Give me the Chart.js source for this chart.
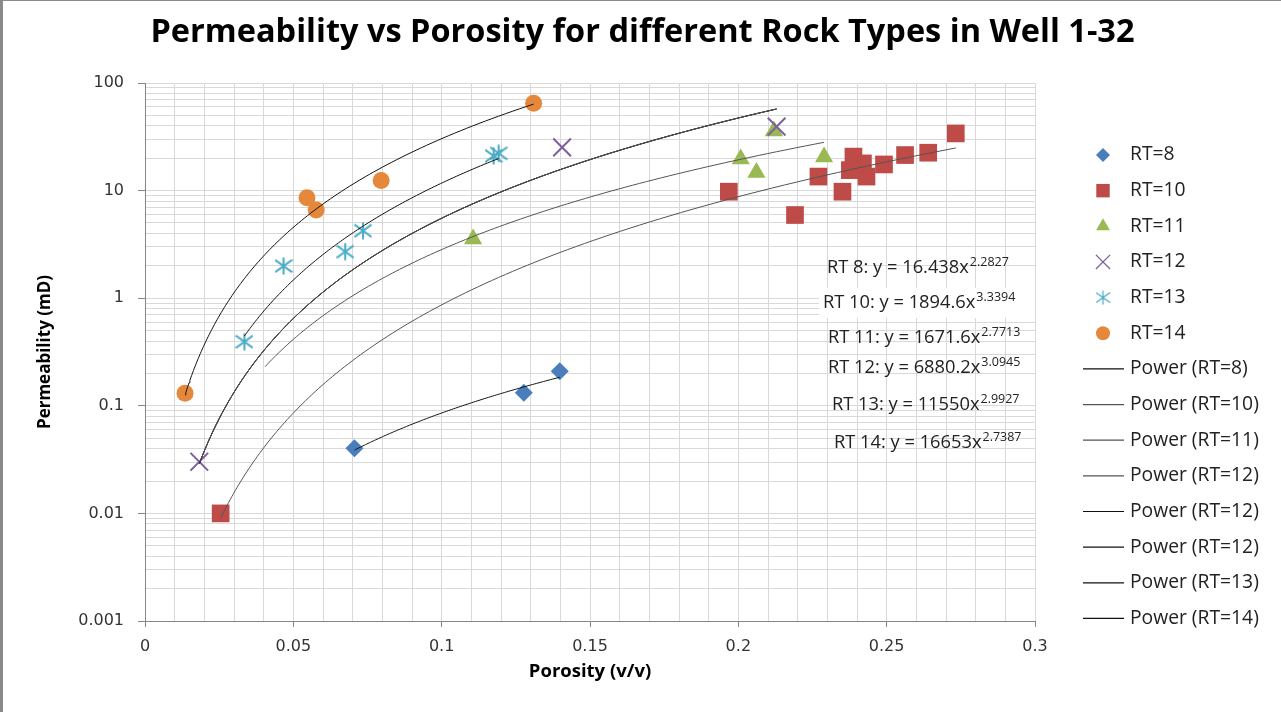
<!DOCTYPE html>
<html>
<head>
<meta charset="utf-8">
<title>Permeability vs Porosity - Well 1-32</title>
<script src="https://cdn.jsdelivr.net/npm/chart.js@4.4.1/dist/chart.umd.min.js"></script>
<style>
  html, body { margin: 0; padding: 0; background: #fff; }
  canvas { display: block; }
</style>
</head>
<body>
<canvas id="myChart" width="1281" height="712"></canvas>
<script>
// core plug data, porosity (v/v) vs permeability (mD), by rock type
const rt8Porosity = [0.0706, 0.1277, 0.1398];
const rt8Perm = [0.0403, 0.132, 0.210];

const rt10Porosity = [0.0255, 0.1968, 0.2191, 0.2270, 0.2351, 0.2388, 0.2420, 0.2376, 0.2432, 0.2491, 0.2562, 0.2640, 0.2733];
const rt10Perm = [0.01, 9.77, 5.93, 13.5, 9.77, 20.7, 17.9, 15.5, 13.5, 17.5, 21.4, 22.5, 34.0];

const rt11Porosity = [0.1106, 0.2008, 0.2061, 0.2120, 0.2289];
const rt11Perm = [3.55, 19.7, 14.7, 35.8, 20.5];

const rt12Porosity = [0.0183, 0.1406, 0.2129];
const rt12Perm = [0.0302, 25.2, 39.3];

const rt13Porosity = [0.0335, 0.0467, 0.0675, 0.0735, 0.1175, 0.1192];
const rt13Perm = [0.394, 1.99, 2.71, 4.24, 21.0, 22.2];

const rt14Porosity = [0.0135, 0.0546, 0.0577, 0.0796, 0.1310];
const rt14Perm = [0.131, 8.59, 6.61, 12.4, 64.7];

const rockTypes = ['RT=8', 'RT=10', 'RT=11', 'RT=12', 'RT=13', 'RT=14'];

// power trendlines k = a * phi^b, and the porosity range each one covers
const fitNames = ['Power (RT=8)', 'Power (RT=10)', 'Power (RT=11)', 'Power (RT=12)', 'Power (RT=12)', 'Power (RT=12)', 'Power (RT=13)', 'Power (RT=14)'];
const fitCoef = [16.438, 1894.6, 1671.6, 6880.2, 6880.2, 6880.2, 11550, 16653];
const fitExp = [2.2827, 3.3394, 2.7713, 3.0945, 3.0945, 3.0945, 2.9927, 2.7387];
const fitFrom = [0.0706, 0.0255, 0.0405, 0.0183, 0.0183, 0.0183, 0.0335, 0.0135];
const fitTo = [0.1398, 0.2733, 0.2289, 0.2129, 0.2129, 0.2129, 0.1192, 0.1310];

// which trendlines get an equation label
const eqNames = ['RT 8', 'RT 10', 'RT 11', 'RT 12', 'RT 13', 'RT 14'];
const eqFit = [0, 1, 2, 3, 6, 7];

const xTickLabels = ['0', '0.05', '0.1', '0.15', '0.2', '0.25', '0.3'];
const yTickLabels = [0.001, 0.01, 0.1, 1, 10, 100];

const chartTitle = 'Permeability vs Porosity for different Rock Types in Well 1-32';

// ---- styles ----
const seriesColors = ['#4A7EBB', '#BE4B48', '#98B954', '#7D5FA0', '#4BACC6', '#E6883C'];
const fitColors = ['#111', '#555', '#555', '#555', '#111', '#111', '#111', '#111'];
const eqOffsets = [[682, 185], [678, 220], [683, 255], [683, 285], [687, 322], [689, 360]];

const textFont = "'Open Sans', sans-serif";
const tickFont = "'DejaVu Sans', sans-serif";

// asterisk marker: vertical bar plus an x
function asterisk(size, color, lw) {
  const c = document.createElement('canvas');
  c.width = size;
  c.height = size;
  const g = c.getContext('2d');
  const m = size / 2;
  const h = size / 2 - 0.5;
  const dy = h * 0.72;
  g.strokeStyle = color;
  g.lineWidth = lw;
  g.beginPath();
  g.moveTo(m, m - h); g.lineTo(m, m + h);
  g.moveTo(m - h, m - dy); g.lineTo(m + h, m + dy);
  g.moveTo(m - h, m + dy); g.lineTo(m + h, m - dy);
  g.stroke();
  return c;
}

const markerStyles = [
  { pointStyle: 'rectRot', radius: 9, legendRadius: 7, borderWidth: 0 },
  { pointStyle: 'rect', radius: 12.5, legendRadius: 9.5, borderWidth: 0 },
  { pointStyle: 'triangle', radius: 10.5, legendRadius: 8, borderWidth: 0 },
  { pointStyle: 'crossRot', radius: 12.5, legendRadius: 10, borderWidth: 2 },
  { pointStyle: asterisk(18, seriesColors[4], 2), legend: asterisk(15, seriesColors[4], 1.3), radius: 9, legendRadius: 7, borderWidth: 0 },
  { pointStyle: 'circle', radius: 8.5, legendRadius: 7, borderWidth: 0 }
];

const porosity = [rt8Porosity, rt10Porosity, rt11Porosity, rt12Porosity, rt13Porosity, rt14Porosity];
const perm = [rt8Perm, rt10Perm, rt11Perm, rt12Perm, rt13Perm, rt14Perm];

const pointSets = rockTypes.map((name, i) => ({
  label: name,
  data: porosity[i].map((x, j) => ({ x: x, y: perm[i][j] })),
  backgroundColor: seriesColors[i],
  borderColor: seriesColors[i],
  pointStyle: markerStyles[i].pointStyle,
  pointRadius: markerStyles[i].radius,
  pointBorderWidth: markerStyles[i].borderWidth,
  order: 10 - i
}));

// trendline curves, sampled along the fitted range
const trendSets = fitNames.map((name, i) => {
  const pts = [];
  const n = 120;
  for (let k = 0; k <= n; k++) {
    const x = fitFrom[i] * Math.pow(fitTo[i] / fitFrom[i], k / n);
    pts.push({ x: x, y: fitCoef[i] * Math.pow(x, fitExp[i]) });
  }
  return {
    label: name,
    data: pts,
    showLine: true,
    borderColor: fitColors[i],
    borderWidth: 1,
    pointRadius: 0,
    fill: false,
    order: 0
  };
});

// title centred on the whole canvas, not just the plot
const titlePlugin = {
  id: 'pageTitle',
  afterDraw(chart) {
    const ctx = chart.ctx;
    ctx.save();
    ctx.font = 'bold 32.5px ' + textFont;
    ctx.fillStyle = '#000';
    ctx.textAlign = 'center';
    ctx.textBaseline = 'alphabetic';
    ctx.fillText(chartTitle, chart.width / 2 + 2, 42);
    ctx.restore();
  }
};

// trendline equations with superscript exponent
const eqPlugin = {
  id: 'eqLabels',
  afterDatasetsDraw(chart) {
    const ctx = chart.ctx;
    const area = chart.chartArea;
    ctx.save();
    ctx.textBaseline = 'middle';
    eqNames.forEach((name, i) => {
      const f = eqFit[i];
      const x = area.left + eqOffsets[i][0];
      const y = area.top + eqOffsets[i][1];
      const main = name + ': y = ' + fitCoef[f] + 'x';
      if (i === 1) {
        ctx.fillStyle = '#fff';
        ctx.fillRect(x - 4, y - 15, area.right - x + 4, 30);
      }
      ctx.fillStyle = '#222';
      ctx.font = '18.3px ' + textFont;
      ctx.fillText(main, x, y);
      const w = ctx.measureText(main).width;
      ctx.font = '12.5px ' + textFont;
      ctx.fillText(String(fitExp[f]), x + w + 1, y - 6);
    });
    ctx.restore();
  }
};

// legend column on the right
const legendPlugin = {
  id: 'sideLegend',
  afterDraw(chart) {
    const ctx = chart.ctx;
    const area = chart.chartArea;
    const top = 155;
    const step = 35.65;
    const mx = area.right + 68;
    const tx = area.right + 95;
    ctx.save();
    ctx.font = '19.3px ' + textFont;
    ctx.textBaseline = 'middle';
    rockTypes.forEach((name, i) => {
      const y = top + i * step;
      const st = markerStyles[i];
      ctx.fillStyle = seriesColors[i];
      ctx.strokeStyle = seriesColors[i];
      ctx.lineWidth = i === 3 ? 1.3 : 0;
      Chart.helpers.drawPoint(ctx, {
        pointStyle: st.legend || st.pointStyle,
        radius: st.legendRadius,
        rotation: 0,
        borderWidth: i === 3 ? 1.3 : 0
      }, mx, y);
      ctx.fillStyle = '#222';
      ctx.fillText(name, tx, y);
    });
    fitNames.forEach((name, i) => {
      const y = top + (rockTypes.length + i) * step;
      ctx.strokeStyle = fitColors[i];
      ctx.lineWidth = 1.2;
      ctx.beginPath();
      ctx.moveTo(area.right + 48, y);
      ctx.lineTo(area.right + 89, y);
      ctx.stroke();
      ctx.fillStyle = '#222';
      ctx.fillText(name, tx, y);
    });
    ctx.restore();
  }
};

// outer frame: thin top edge, heavier left edge
const framePlugin = {
  id: 'frame',
  afterDraw(chart) {
    const ctx = chart.ctx;
    ctx.save();
    ctx.fillStyle = '#8a8a8a';
    ctx.fillRect(0, 0, chart.width, 1);
    ctx.fillRect(0, 0, 3, chart.height);
    ctx.restore();
  }
};

const yGrid = [];
yTickLabels.forEach((d, i) => {
  if (i === yTickLabels.length - 1) {
    yGrid.push({ value: d, major: true });
    return;
  }
  for (let m = 1; m <= 9; m++) {
    yGrid.push({ value: +(d * m).toPrecision(6), major: m === 1 });
  }
});

new Chart(document.getElementById('myChart'), {
  type: 'scatter',
  data: { datasets: trendSets.concat(pointSets) },
  options: {
    responsive: false,
    animation: false,
    events: [],
    layout: { padding: { left: 0, top: 83, right: 246, bottom: 0 } },
    plugins: {
      legend: { display: false },
      tooltip: { enabled: false },
      title: { display: false }
    },
    scales: {
      x: {
        type: 'linear',
        min: 0,
        max: 0.3,
        afterFit(scale) { scale.height = 91; },
        afterBuildTicks(scale) {
          const t = [];
          for (let i = 0; i <= 30; i++) t.push({ value: i / 100 });
          scale.ticks = t;
        },
        ticks: {
          autoSkip: false,
          maxRotation: 0,
          padding: 10,
          color: '#333',
          font: { family: tickFont, size: 16 },
          callback: (v, i) => (i % 5 === 0 ? xTickLabels[i / 5] : '')
        },
        grid: {
          color: '#d9d9d9',
          lineWidth: 1,
          tickLength: 6,
          tickColor: (c) => (c.index % 5 === 0 ? '#868686' : 'rgba(0,0,0,0)')
        },
        border: { color: '#868686', width: 1 },
        title: {
          display: true,
          text: 'Porosity (v/v)',
          color: '#000',
          font: { family: textFont, size: 18.5, weight: 'bold' },
          padding: { top: 0, bottom: 29 }
        }
      },
      y: {
        type: 'logarithmic',
        min: 0.001,
        max: 100,
        afterFit(scale) { scale.width = 145; },
        afterBuildTicks(scale) {
          scale.ticks = yGrid.map(t => ({ value: t.value, major: t.major }));
        },
        ticks: {
          autoSkip: false,
          padding: 14,
          color: '#333',
          font: { family: tickFont, size: 16 },
          callback: (v) => {
            const hit = yTickLabels.find(d => Math.abs(d - v) < d * 1e-6);
            return hit === undefined ? '' : String(hit);
          }
        },
        grid: {
          color: '#d9d9d9',
          lineWidth: 1,
          tickLength: 7,
          tickColor: (c) => (c.tick && c.tick.major ? '#868686' : 'rgba(0,0,0,0)')
        },
        border: { color: '#868686', width: 1 },
        title: {
          display: true,
          text: 'Permeability (mD)',
          color: '#000',
          font: { family: textFont, size: 17, weight: 'bold' },
          padding: { top: 35, bottom: 0 }
        }
      }
    }
  },
  plugins: [titlePlugin, eqPlugin, legendPlugin, framePlugin]
});
</script>
</body>
</html>
